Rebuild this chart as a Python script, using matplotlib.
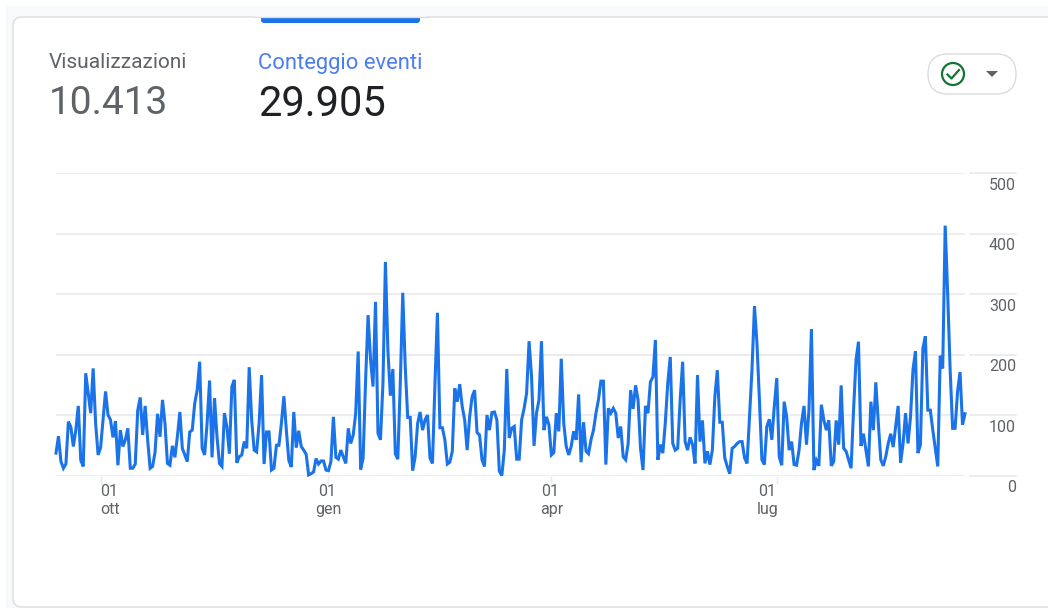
#!/usr/bin/env python3

import numpy as np
import pandas as pd
import matplotlib
matplotlib.use("Agg")
import matplotlib.pyplot as plt
import matplotlib.dates as mdates
from matplotlib.patches import FancyBboxPatch, Circle, Polygon, Rectangle

plt.rcParams['font.family'] = ['Roboto', 'DejaVu Sans']

##
# Values
##
first_day = "2024-09-13"

events = [
    37, 65, 23, 12, 19, 89, 80, 48, 75, 115, 25, 15, 169, 136, 103, 177, 86, 34, 46, 92,
    139, 100, 92, 63, 90, 17, 75, 48, 59, 78, 12, 12, 19, 108, 129, 67, 115, 59, 12, 15,
    39, 102, 64, 125, 86, 20, 17, 49, 30, 64, 105, 45, 34, 23, 72, 75, 119, 141, 188, 45,
    34, 86, 157, 30, 128, 64, 20, 15, 103, 80, 36, 147, 158, 21, 31, 34, 56, 45, 179, 92,
    42, 39, 86, 166, 19, 72, 72, 9, 12, 50, 50, 86, 131, 75, 25, 14, 105, 46, 74, 48,
    42, 35, 1, 3, 6, 28, 19, 24, 24, 9, 8, 23, 97, 30, 27, 42, 31, 20, 78, 53,
    67, 103, 205, 10, 29, 158, 265, 191, 147, 287, 70, 59, 152, 353, 207, 132, 176, 36, 27, 152,
    302, 180, 96, 96, 8, 31, 86, 105, 75, 92, 100, 29, 20, 152, 269, 79, 79, 59, 19, 22,
    40, 144, 122, 151, 114, 92, 42, 97, 130, 141, 71, 67, 26, 15, 100, 75, 104, 105, 92, 7,
    0, 42, 176, 62, 78, 81, 27, 27, 92, 111, 136, 222, 163, 49, 103, 125, 222, 75, 97, 84,
    34, 38, 103, 73, 193, 86, 48, 34, 48, 73, 59, 134, 22, 88, 40, 36, 59, 75, 103, 125,
    156, 156, 18, 111, 103, 111, 103, 62, 81, 31, 26, 53, 141, 110, 149, 125, 45, 9, 115, 103,
    155, 163, 224, 26, 51, 37, 87, 153, 196, 53, 42, 45, 125, 188, 56, 42, 63, 51, 20, 166,
    56, 91, 20, 40, 18, 42, 130, 174, 88, 88, 29, 15, 3, 45, 48, 53, 56, 56, 29, 20,
    97, 175, 280, 219, 125, 26, 18, 81, 93, 59, 114, 161, 31, 17, 122, 97, 42, 56, 18, 17,
    42, 87, 115, 51, 108, 242, 9, 25, 16, 117, 92, 75, 91, 16, 23, 91, 51, 149, 45, 40,
    26, 12, 108, 191, 221, 49, 69, 42, 15, 122, 75, 154, 87, 26, 16, 31, 53, 69, 47, 81,
    115, 21, 53, 103, 53, 97, 175, 205, 37, 51, 210, 230, 108, 108, 75, 45, 15, 198, 177, 413,
    301, 175, 78, 78, 139, 171, 84, 102,
]

y_ticks = [0, 100, 200, 300, 400, 500]
x_tick_dates = ["2024-10-01", "2025-01-01", "2025-04-01", "2025-07-01"]
x_tick_days = ["01", "01", "01", "01"]
x_tick_months = ["ott", "gen", "apr", "lug"]

metric_names = ["Visualizzazioni", "Conteggio eventi"]
metric_totals = ["10.413", "29.905"]

BLUE = "#1a73e8"
GRID = "#e8eaed"
GREY = "#5f6368"

W, H = 1048, 610
fig = plt.figure(figsize=(W / 100, H / 100), dpi=100, facecolor="white")

##
# Card, tab and headline numbers, in pixel coordinates
##
bg = fig.add_axes([0, 0, 1, 1])
bg.set_xlim(0, W)
bg.set_ylim(H, 0)
bg.axis("off")

bg.add_patch(Rectangle((6, 6), W - 6, H - 6, fc="#f8f9fa", ec="none"))
bg.add_patch(Rectangle((0, 608), W, 2, fc="white", ec="none"))
bg.add_patch(FancyBboxPatch((13, 17), W + 40, 590, boxstyle="round,pad=0,rounding_size=9",
                            fc="white", ec="#dadce0", lw=1.0))
bg.add_patch(FancyBboxPatch((261, 12), 159, 11, boxstyle="round,pad=0,rounding_size=3",
                            fc=BLUE, ec="none", clip_on=True))
bg.add_patch(Rectangle((255, 6), 172, 11, fc="#f8f9fa", ec="none"))
bg.plot([255, 427], [17, 17], color="#dadce0", lw=1.0)

bg.text(49, 63, metric_names[0], fontsize=15, color=GREY, va="center", ha="left")
bg.text(258, 63, metric_names[1], fontsize=15.8, color="#4a7df0", va="center", ha="left")
bg.text(49, 104, metric_totals[0], fontsize=28, color=GREY, va="center", ha="left")
bg.text(258, 104, metric_totals[1], fontsize=30, color="#202124", va="center", ha="left")

# status pill
bg.add_patch(FancyBboxPatch((928, 54), 88, 40, boxstyle="round,pad=0,rounding_size=20",
                            fc="white", ec="#dadce0", lw=1.0))
bg.add_patch(Circle((953, 74), 11, fc="white", ec="#137333", lw=1.6))
bg.plot([947.5, 951.5, 959], [74.5, 78.5, 70], color="#137333", lw=1.6)
bg.add_patch(Polygon([[986, 71], [998, 71], [992, 77]], fc=GREY, ec="none"))

##
# The chart itself
##
dates = pd.date_range(first_day, periods=len(events), freq="D")

ax = fig.add_axes([56 / W, 1 - 475.5 / H, 909 / W, 302.5 / H])
ax.patch.set_alpha(0)
ax.plot(dates, events, color=BLUE, lw=2.2, clip_on=False, solid_joinstyle="miter", zorder=3)
ax.set_xlim(dates[0], dates[-1])
ax.set_ylim(y_ticks[0], y_ticks[-1])

for s in ax.spines.values():
    s.set_visible(False)

ax.set_yticks(y_ticks)
ax.set_yticklabels([])
ax.tick_params(axis="y", length=0)
ax.grid(axis="y", color=GRID, lw=1.2)
ax.set_axisbelow(True)

ax.set_xticks([mdates.date2num(pd.Timestamp(d)) for d in x_tick_dates])
ax.set_xticklabels([])
ax.tick_params(axis="x", length=6, width=1, color=GRID)

# gridline stubs and value labels right of the plot
ytrans = ax.get_yaxis_transform()
for v in y_ticks:
    ax.plot([1 + 5 / 909, 1 + 51 / 909], [v, v], transform=ytrans, color=GRID, lw=1.2, clip_on=False)
    ax.annotate(str(v), xy=(1, v), xycoords=ytrans, xytext=(51 * 0.72, -3.3),
                textcoords="offset points", ha="right", va="top", fontsize=11.5, color=GREY)

# month labels sit a little off their ticks in the original
day_offsets = [9, -1, -1, -10]
month_offsets = [9, 0, 0, -9]
xtrans = ax.get_xaxis_transform()
for d, day, month, o1, o2 in zip(x_tick_dates, x_tick_days, x_tick_months, day_offsets, month_offsets):
    x = mdates.date2num(pd.Timestamp(d))
    ax.annotate(day, xy=(x, 0), xycoords=xtrans, xytext=(o1 * 0.72, -11.5),
                textcoords="offset points", ha="center", va="center", fontsize=11.5, color=GREY)
    ax.annotate(month, xy=(x, 0), xycoords=xtrans, xytext=(o2 * 0.72, -24.5),
                textcoords="offset points", ha="center", va="center", fontsize=11.5, color=GREY)

fig.savefig("out.png", dpi=100)
